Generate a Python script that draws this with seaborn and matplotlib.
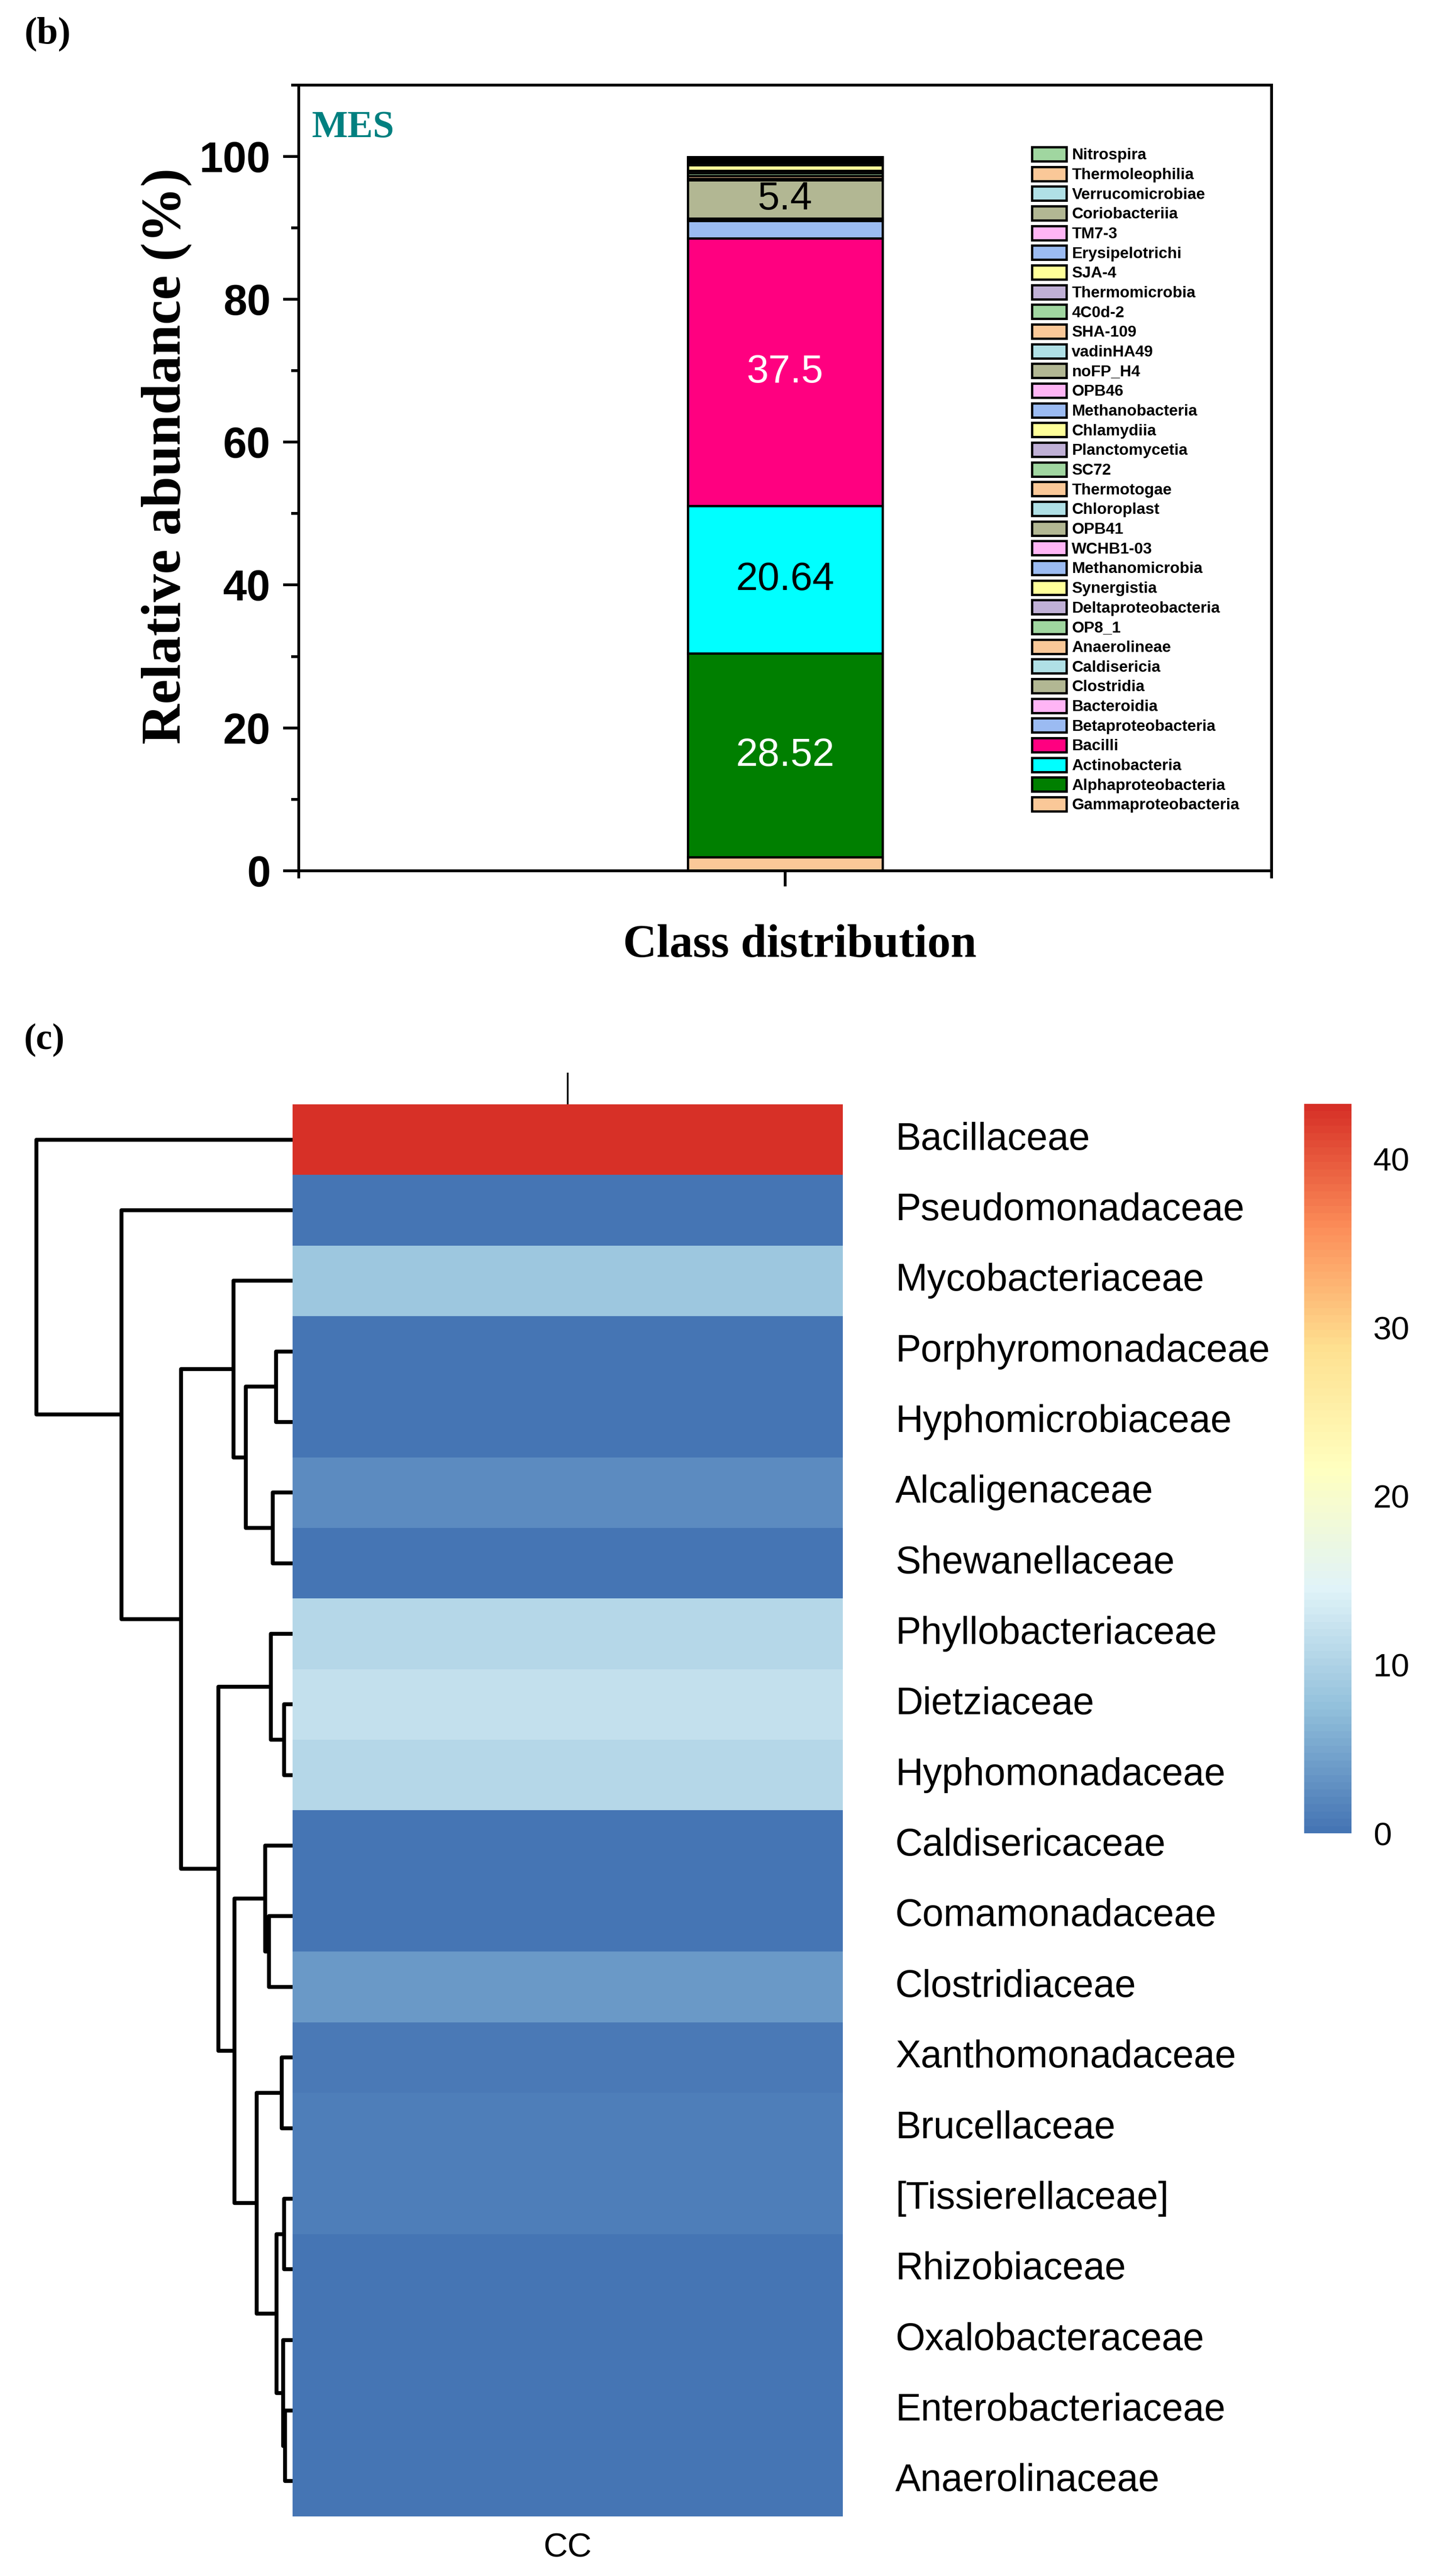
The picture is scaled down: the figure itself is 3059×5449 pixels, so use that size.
import numpy as np
import pandas as pd
import seaborn as sns
import matplotlib.pyplot as plt
from matplotlib.colors import LinearSegmentedColormap
from matplotlib.ticker import MultipleLocator, FixedLocator

##
## DATA
##
## panel (b): class abundance (%), stacking order bottom -> top
classes = ["Gammaproteobacteria", "Alphaproteobacteria", "Actinobacteria", "Bacilli",
           "Betaproteobacteria", "Bacteroidia", "Clostridia", "Caldisericia", "Anaerolineae",
           "OP8_1", "Deltaproteobacteria", "Synergistia", "Methanomicrobia", "WCHB1-03",
           "OPB41", "Chloroplast", "Thermotogae", "SC72", "Planctomycetia", "Chlamydiia",
           "Methanobacteria", "OPB46", "noFP_H4", "vadinHA49", "SHA-109", "4C0d-2",
           "Thermomicrobia", "SJA-4", "Erysipelotrichi", "TM7-3", "Coriobacteriia",
           "Verrucomicrobiae", "Thermoleophilia", "Nitrospira"]
abundance = [1.9, 28.52, 20.64, 37.5, 2.45, 0.3, 5.4, 0.2, 0.4, 0.4, 0.3, 0.8,
             0.3, 0.12, 0.1, 0.08, 0.07, 0.06, 0.05, 0.05, 0.04, 0.04, 0.03, 0.03,
             0.03, 0.02, 0.02, 0.02, 0.02, 0.02, 0.02, 0.01, 0.01, 0.01]
labelled = {"Alphaproteobacteria": "white", "Actinobacteria": "black",
            "Bacilli": "white", "Clostridia": "black"}

## panel (c): family heatmap (single sample CC)
families = ["Bacillaceae", "Pseudomonadaceae", "Mycobacteriaceae", "Porphyromonadaceae",
            "Hyphomicrobiaceae", "Alcaligenaceae", "Shewanellaceae", "Phyllobacteriaceae",
            "Dietziaceae", "Hyphomonadaceae", "Caldisericaceae", "Comamonadaceae",
            "Clostridiaceae", "Xanthomonadaceae", "Brucellaceae", "[Tissierellaceae]",
            "Rhizobiaceae", "Oxalobacteraceae", "Enterobacteriaceae", "Anaerolinaceae"]
cc_values = [43.28, 0.3, 8.6, 0.1, 0.4, 2.3, 0.1, 10.7, 12.0, 10.7,
             0.1, 0.1, 3.5, 0.85, 1.0, 1.0, 0.05, 0.05, 0.05, 0.0]
cbar_ticks = [0, 10, 20, 30, 40]

## row dendrogram (leaves 0..19, new nodes 20..)
merge_left = [8, 15, 18, 17, 13, 21, 3, 5, 7, 11, 10, 24, 26, 30, 2, 28, 34, 1, 0]
merge_right = [9, 16, 19, 22, 14, 23, 4, 6, 20, 12, 29, 25, 27, 31, 32, 33, 35, 36, 37]
merge_height = [18, 18, 16, 20, 23, 34, 35, 42, 46, 50, 58, 76, 99, 123, 125, 157, 236, 362, 542]

## colours
light = {"green": "#A0D6A0", "peach": "#FAC898", "cyan": "#B0E0E6", "olive": "#B2B793",
         "pink": "#FFB5F5", "blue": "#9BBBF2", "yellow": "#FFFF99", "lav": "#C0B0D6"}
cycle = ["blue", "pink", "olive", "cyan", "peach", "green", "lav", "yellow"]
bar_colors = [light["peach"], "#007F00", "#00FFFF", "#FF0080"] + \
             [light[cycle[i % 8]] for i in range(len(classes) - 4)]
pheat = LinearSegmentedColormap.from_list(
    "pheat", ["#4575B4", "#91BFDB", "#E0F3F8", "#FFFFBF", "#FEE090", "#FC8D59", "#D73027"], N=100)

##
## STYLE
##
sns.set_theme(style="ticks")
plt.rcParams["font.family"] = ["Liberation Sans", "DejaVu Sans"]
plt.rcParams.update({"axes.edgecolor": "black", "xtick.color": "black",
                     "ytick.color": "black", "text.color": "black",
                     "axes.labelcolor": "black"})
SERIF = ["Liberation Serif", "DejaVu Serif"]

fig = plt.figure(figsize=(30.59, 54.49), dpi=100)
fig.patch.set_facecolor("white")

##
## PANEL (b) - stacked bar
##
ax = fig.add_axes([0.2066, 0.6620, 0.6728, 0.3050])
bottom = 0.0
for cls, val, col in zip(classes, abundance, bar_colors):
    ax.bar(0, val, width=0.4, bottom=bottom, color=col, edgecolor="black",
           linewidth=3.5, label=cls, zorder=2)
    if cls in labelled:
        ax.text(0, bottom + val / 2, f"{val:g}", ha="center", va="center",
                fontsize=60, color=labelled[cls], zorder=3)
    bottom += val

ax.set_xlim(-1, 1)
ax.set_ylim(0, 110)
ax.yaxis.set_major_locator(MultipleLocator(20))
ax.yaxis.set_minor_locator(MultipleLocator(10))
ax.set_yticks([0, 20, 40, 60, 80, 100])
ax.xaxis.set_major_locator(FixedLocator([0]))
ax.xaxis.set_minor_locator(FixedLocator([-1, 1]))
ax.set_xticklabels([""])
ax.tick_params(axis="both", which="major", direction="out", length=24, width=4.3,
               labelsize=65, pad=19)
ax.tick_params(axis="both", which="minor", direction="out", length=11.5, width=4.3)
ax.tick_params(top=False, right=False, which="both")
for lab in ax.get_yticklabels():
    lab.set_fontweight("bold")
for sp in ax.spines.values():
    sp.set_visible(True)
    sp.set_linewidth(4.3)
    sp.set_color("black")

ax.set_ylabel("Relative abundance (%)", fontsize=85, fontweight="bold", family=SERIF)
ax.yaxis.set_label_coords(-0.11, 0.528)
ax.set_xlabel("Class distribution", fontsize=71, fontweight="bold", family=SERIF)
ax.xaxis.set_label_coords(0.515, -0.068)
ax.xaxis.label.set_va("top")
ax.text(0.0136, 0.9675, "MES", transform=ax.transAxes, ha="left", va="top",
        fontsize=58, fontweight="bold", color="#008080", family=SERIF)

handles, labels = ax.get_legend_handles_labels()
ax.legend(handles[::-1], labels[::-1], loc="upper left", bbox_to_anchor=(0.7536, 0.921),
          frameon=False, borderpad=0, borderaxespad=0, handlelength=2.2, handleheight=1.0,
          handletextpad=0.33, labelspacing=0.25,
          prop={"family": "Liberation Sans", "weight": "bold", "size": 24})

fig.text(51 / 3059, 1 - 36 / 5449, "(b)", ha="left", va="top", fontsize=58,
         fontweight="bold", family=SERIF)

##
## PANEL (c) - heatmap with row dendrogram
##
df_hm = pd.DataFrame({"CC": cc_values}, index=families)
ax_hm = fig.add_axes([0.2024, 0.02312, 0.3805, 0.5482])
ax_cb = fig.add_axes([0.9019, 0.2883, 0.0327, 0.2832])
ax_den = fig.add_axes([0.02517, 0.02312, 0.1772, 0.5482])

sns.heatmap(df_hm, ax=ax_hm, cmap=pheat, vmin=0, vmax=max(cc_values), cbar_ax=ax_cb,
            xticklabels=True, yticklabels=True)

ax_hm.yaxis.tick_right()
ax_hm.set_yticklabels(families, rotation=0, va="center", ha="left")
ax_hm.tick_params(axis="y", length=0, pad=80, labelsize=58)
## column stub on top, label underneath
ax_hm.tick_params(axis="x", which="major", top=True, bottom=False, labeltop=False,
                  labelbottom=True, length=48, width=2.6, direction="out",
                  labelsize=51, pad=-23, labelcolor="black")
ax_hm.set_xlabel("")
ax_hm.set_ylabel("")

ax_cb.set_yticks(cbar_ticks)
ax_cb.tick_params(length=0, labelsize=50, pad=33)
for sp in ax_cb.spines.values():
    sp.set_visible(False)

## dendrogram from the merge table
n_leaf = len(families)
node_y = {i: i + 0.5 for i in range(n_leaf)}
node_h = {i: 0.0 for i in range(n_leaf)}
for k, (a, b, h) in enumerate(zip(merge_left, merge_right, merge_height)):
    ax_den.plot([node_h[a], h, h, node_h[b]], [node_y[a], node_y[a], node_y[b], node_y[b]],
                color="black", lw=6, clip_on=False, solid_capstyle="butt")
    node_y[n_leaf + k] = (node_y[a] + node_y[b]) / 2
    node_h[n_leaf + k] = h
ax_den.set_xlim(max(merge_height), 0)
ax_den.set_ylim(n_leaf, 0)
ax_den.axis("off")

fig.text(51 / 3059, 1 - 2165 / 5449, "(c)", ha="left", va="top", fontsize=56,
         fontweight="bold", family=SERIF)

fig.savefig("out.png", dpi=100, facecolor="white")
